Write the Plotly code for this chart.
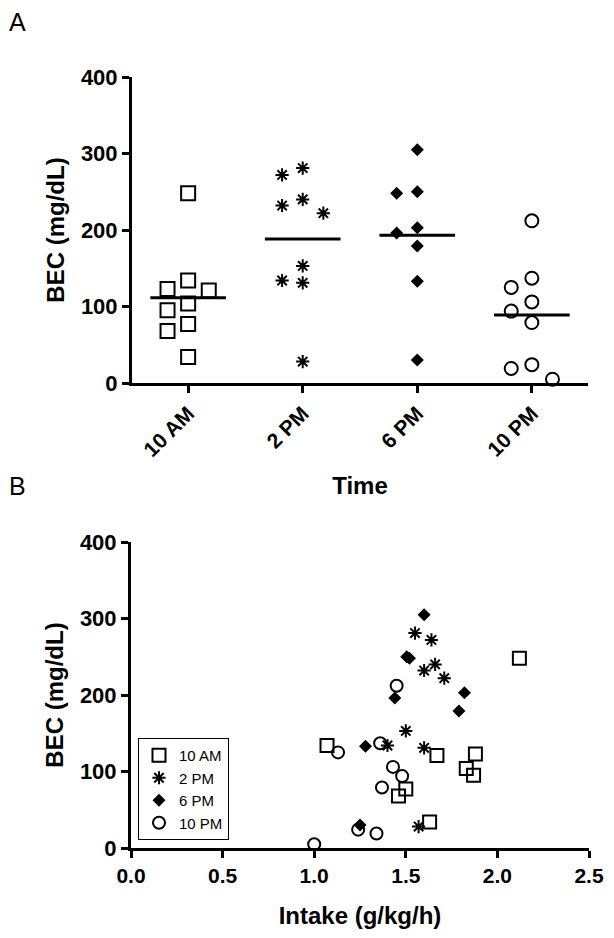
import plotly.graph_objects as go

# ---------------- data ----------------
groups = ["10 AM", "2 PM", "6 PM", "10 PM"]

bec_10am = [248, 134, 123, 121, 104, 95, 77, 68, 34]
intake_10am = [2.12, 1.07, 1.88, 1.67, 1.83, 1.87, 1.50, 1.46, 1.63]

bec_2pm = [281, 272, 240, 232, 222, 153, 134, 131, 28]
intake_2pm = [1.55, 1.64, 1.66, 1.60, 1.71, 1.50, 1.40, 1.60, 1.57]

bec_6pm = [305, 250, 248, 203, 196, 179, 133, 30]
intake_6pm = [1.60, 1.505, 1.52, 1.82, 1.44, 1.79, 1.28, 1.25]

bec_10pm = [212, 137, 125, 106, 94, 79, 24, 19, 5]
intake_10pm = [1.45, 1.36, 1.13, 1.43, 1.48, 1.37, 1.24, 1.34, 1.00]

y_ticks = [0, 100, 200, 300, 400]
x_ticks_b = [0.0, 0.5, 1.0, 1.5, 2.0, 2.5]

# ---------------- styling / layout constants ----------------
W, H = 614, 938
FONT = "Liberation Sans, Arial, Helvetica, sans-serif"

xA_dom = [132 / W, 588 / W]
yA_dom = [1 - 383 / H, 1 - 77 / H]
xB_dom = [131 / W, 589 / W]
yB_dom = [1 - 848 / H, 1 - 542 / H]
xA_range = [-0.49, 3.49]
y_range = [0, 400]

styles = [
    dict(symbol="square-open", size=14, color="black", line=dict(width=2, color="black")),
    dict(symbol="asterisk-open", size=11, color="black", line=dict(width=2, color="black")),
    dict(symbol="diamond", size=10, color="black", line=dict(width=0, color="black")),
    dict(symbol="circle-open", size=13, color="black", line=dict(width=2, color="black")),
]
styles_b = [
    dict(symbol="square-open", size=13, color="black", line=dict(width=2, color="black")),
    dict(symbol="asterisk-open", size=11, color="black", line=dict(width=2, color="black")),
    dict(symbol="diamond", size=10, color="black", line=dict(width=0, color="black")),
    dict(symbol="circle-open", size=12, color="black", line=dict(width=2, color="black")),
]

bec_all = [bec_10am, bec_2pm, bec_6pm, bec_10pm]
intake_all = [intake_10am, intake_2pm, intake_6pm, intake_10pm]

# pixel scales of panel A (used only for the beeswarm collision test)
px_per_unit_y = (yA_dom[1] - yA_dom[0]) * H / (y_range[1] - y_range[0])
px_per_cat = (xA_dom[1] - xA_dom[0]) * W / (xA_range[1] - xA_range[0])


def swarm_offsets(values, d=15.0, step=0.18):
    n = len(values)
    order = sorted(range(n), key=lambda i: -values[i])
    cands = [0.0]
    for k in range(1, 6):
        cands += [-k * step, k * step]
    placed = []
    offs = [0.0] * n
    for i in order:
        for c in cands:
            ok = True
            for v, o in placed:
                if abs(values[i] - v) * px_per_unit_y < d and abs(c - o) * px_per_cat < d:
                    ok = False
                    break
            if ok:
                offs[i] = c
                placed.append((values[i], c))
                break
    return offs


fig = go.Figure()

# ---------------- Panel A ----------------
for gi, (name, vals) in enumerate(zip(groups, bec_all)):
    offs = swarm_offsets(vals)
    fig.add_trace(go.Scatter(
        x=[gi + o for o in offs], y=vals, mode="markers",
        marker=styles[gi], showlegend=False, cliponaxis=False,
        xaxis="x", yaxis="y", hoverinfo="skip"))
    m = sum(vals) / len(vals)
    fig.add_trace(go.Scatter(
        x=[gi - 0.33, gi + 0.33], y=[m, m], mode="lines",
        line=dict(color="black", width=3), showlegend=False,
        xaxis="x", yaxis="y", hoverinfo="skip"))

# ---------------- Panel B ----------------
for gi, (name, vals, xs) in enumerate(zip(groups, bec_all, intake_all)):
    fig.add_trace(go.Scatter(
        x=xs, y=vals, mode="markers", name=name,
        marker=styles_b[gi], showlegend=True, cliponaxis=False,
        xaxis="x2", yaxis="y2"))

axis_common = dict(
    showline=True, linecolor="black", linewidth=3,
    ticks="outside", ticklen=7, tickwidth=3, tickcolor="black",
    showgrid=False, zeroline=False, automargin=False,
)
tick_font_y = dict(family=FONT, size=22, color="black", weight="bold")
title_font = dict(family=FONT, size=24, color="black", weight="bold")

fig.update_layout(
    width=W, height=H,
    margin=dict(l=0, r=0, t=0, b=0),
    paper_bgcolor="white", plot_bgcolor="white",
    font=dict(family=FONT, color="black"),
    xaxis=dict(
        domain=xA_dom, anchor="y", range=xA_range,
        tickmode="array", tickvals=list(range(len(groups))), ticktext=groups,
        tickangle=-45,
        tickfont=dict(family=FONT, size=21, color="black", weight="bold"),
        title=dict(text="Time", font=title_font, standoff=18),
        **axis_common),
    yaxis=dict(
        domain=yA_dom, anchor="x", range=y_range,
        tickmode="array", tickvals=y_ticks,
        tickfont=tick_font_y,
        title=dict(text="BEC (mg/dL)", font=title_font, standoff=10),
        **axis_common),
    xaxis2=dict(
        domain=xB_dom, anchor="y2", range=[0, 2.5],
        tickmode="array", tickvals=x_ticks_b, tickformat=".1f",
        tickfont=dict(family=FONT, size=21, color="black", weight="bold"),
        title=dict(text="Intake (g/kg/h)", font=title_font, standoff=21),
        **axis_common),
    yaxis2=dict(
        domain=yB_dom, anchor="x2", range=y_range,
        tickmode="array", tickvals=y_ticks,
        tickfont=tick_font_y,
        title=dict(text="BEC (mg/dL)", font=title_font, standoff=10),
        **axis_common),
    legend=dict(
        x=138 / W, y=1 - 738 / H, xanchor="left", yanchor="top",
        bgcolor="white", bordercolor="black", borderwidth=1,
        font=dict(family=FONT, size=15, color="black"),
        itemwidth=30,
    ),
    annotations=[
        dict(text="A", x=7 / W, y=1 - 6 / H, xref="paper", yref="paper",
             xanchor="left", yanchor="top", showarrow=False,
             font=dict(family=FONT, size=25, color="black")),
        dict(text="B", x=7 / W, y=1 - 470 / H, xref="paper", yref="paper",
             xanchor="left", yanchor="top", showarrow=False,
             font=dict(family=FONT, size=25, color="black")),
    ],
)

fig.write_html(
    "out.html",
    config={"displayModeBar": False},
    post_script="document.body.style.margin='0px';document.body.style.overflow='hidden';",
)
